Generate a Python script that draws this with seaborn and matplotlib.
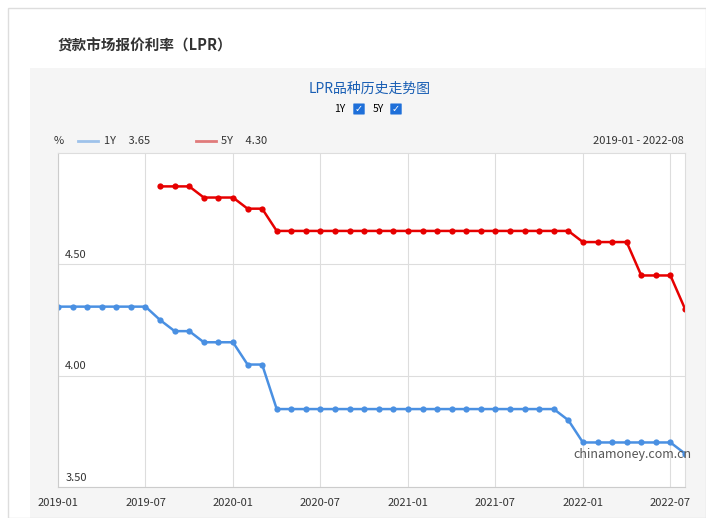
import matplotlib
matplotlib.use("Agg")
import matplotlib.pyplot as plt
import matplotlib.patches as mpatches
import seaborn as sns
import pandas as pd
import numpy as np

months = pd.date_range("2019-01-01", "2022-08-01", freq="MS")
rate_1y = [4.31]*7 + [4.25, 4.20, 4.20, 4.15, 4.15, 4.15, 4.05, 4.05] + [3.85]*20 + [3.80] + [3.70]*7 + [3.65]
rate_5y = [np.nan]*7 + [4.85, 4.85, 4.85, 4.80, 4.80, 4.80, 4.75, 4.75] + [4.65]*21 + [4.60]*4 + [4.45]*3 + [4.30]
xticks = ["2019-01", "2019-07", "2020-01", "2020-07", "2021-01", "2021-07", "2022-01", "2022-07"]
yticks = [3.50, 4.00, 4.50]

df = pd.DataFrame({"month": np.arange(len(months)), "1Y": rate_1y, "5Y": rate_5y})
font = "Noto Sans CJK SC"
plt.rcParams["font.family"] = font

fig = plt.figure(figsize=(7.06, 5.18), dpi=100)
fig.patch.set_facecolor("white")
fig.add_artist(mpatches.Rectangle((30/706, 0), 1, 1-68/518, transform=fig.transFigure,
                                  facecolor="#f5f5f5", edgecolor="none", zorder=-5))
fig.add_artist(mpatches.Rectangle((8/706, 0), 698/706, 1-8/518, transform=fig.transFigure,
                                  facecolor="none", edgecolor="#dddddd", lw=1, zorder=-4))
ax = fig.add_axes([58/706, 1-487/518, (685-58)/706, (487-153)/518])
ax.set_facecolor("white")

sns.lineplot(data=df, x="month", y="1Y", ax=ax, color="#4a90e2", lw=1.8, marker="o",
             markersize=4.5, markeredgewidth=0)
sns.lineplot(data=df.dropna(), x="month", y="5Y", ax=ax, color="#e60000", lw=1.8, marker="o",
             markersize=4.5, markeredgewidth=0)

ax.set_xlim(0, len(months)-1)
ax.set_ylim(3.5, 5.0)
ax.set_xticks([0, 6, 12, 18, 24, 30, 36, 42])
ax.set_xticklabels(xticks, fontsize=8, color="#333333")
ax.set_yticks(yticks)
ax.set_yticklabels([])
ax.tick_params(length=0, pad=8)
ax.grid(True, color="#dddddd", lw=0.8)
ax.set_xlabel(""); ax.set_ylabel("")
for s in ["top", "right"]:
    ax.spines[s].set_color("#dddddd")
for s in ["left", "bottom"]:
    ax.spines[s].set_color("#cccccc")
for y in yticks:
    ax.text(0.5, y + 0.02, f"{y:.2f}", fontsize=8, color="#333333", va="bottom", ha="left")
ax.text(39.4, 3.645, "chinamoney.com.cn", fontsize=9, color="#555555", ha="center", va="center")

fig.text(58/706, 1-46/518, "贷款市场报价利率（LPR）", fontsize=10.5, fontweight="bold", color="#333333", va="center")
fig.text(370/706, 1-89/518, "LPR品种历史走势图", fontsize=10, color="#1a5fb4", ha="center", va="center")
fig.text(340/706, 1-109/518, "1Y", fontsize=7.5, ha="center", va="center")
fig.text(378/706, 1-109/518, "5Y", fontsize=7.5, ha="center", va="center")
for cx in [359, 396]:
    fig.add_artist(mpatches.FancyBboxPatch(((cx-5)/706, 1-114/518), 10/706, 10/518,
                   boxstyle="round,pad=0.001", transform=fig.transFigure, facecolor="#1e6fd9", edgecolor="none"))
    fig.text(cx/706, 1-109/518, "✓", fontsize=7, color="white", ha="center", va="center", family="DejaVu Sans")
fig.text(54/706, 1-141/518, "%", fontsize=8, color="#333333", va="center")
fig.add_artist(plt.Line2D([78/706, 98/706], [1-141/518]*2, color="#9ec2ea", lw=2))
fig.text(104/706, 1-141/518, "1Y     3.65", fontsize=8, color="#333333", va="center")
fig.add_artist(plt.Line2D([196/706, 216/706], [1-141/518]*2, color="#e07b7b", lw=2))
fig.text(221/706, 1-141/518, "5Y     4.30", fontsize=8, color="#333333", va="center")
fig.text(684/706, 1-141/518, "2019-01 - 2022-08", fontsize=8, color="#333333", va="center", ha="right")

fig.savefig("out.png", dpi=100)
